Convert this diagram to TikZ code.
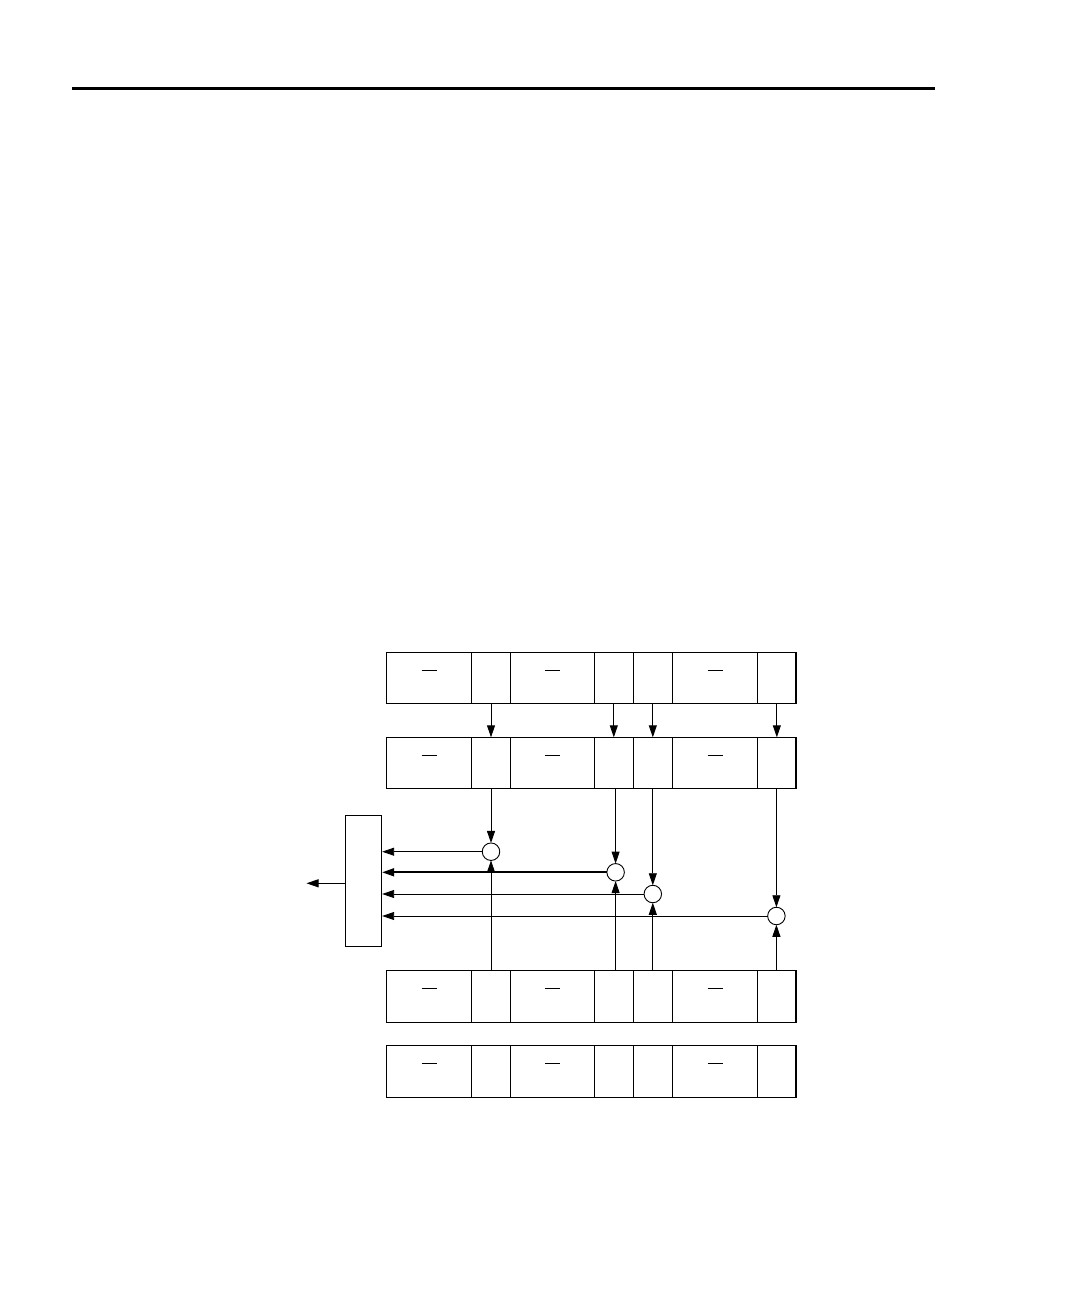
\documentclass[tikz,border=0pt]{standalone}
\usetikzlibrary{arrows.meta}
\begin{document}
\begin{tikzpicture}[x=1pt,y=-1pt,
  cell/.style={draw,line width=0.9pt,rectangle,inner sep=0pt,outer sep=0pt,minimum height=51.5pt},
  junction/.style={draw,line width=0.9pt,circle,inner sep=0pt,outer sep=0pt,minimum size=17.5pt},
  arr/.style={line width=0.9pt,-{Triangle[length=12pt,width=8pt]}},
  dashmark/.style={line width=0.9pt}]
\useasboundingbox (0,0) rectangle (1080,1298);
\draw[line width=3pt] (72,88) -- (935,88);
% rows of cells
\foreach \r/\yt in {1/652.3,2/737.3,3/970.7,4/1045.7}{
  \foreach \c/\xa/\xb in {1/386.7/471.7,2/471.7/510.3,3/510.3/594.3,4/594.3/633.3,5/633.3/672.3,6/672.3/757.7,7/757.7/796}{
    \node[cell,minimum width=\xb-\xa] (r\r c\c) at ({(\xa+\xb)/2},{\yt+25.75}) {};
  }
  \draw[line width=2pt] (r\r c7.north east) -- (r\r c7.south east);
  \foreach \c in {1,3,6}{
    \draw[dashmark] ([xshift=-7.5pt,yshift=-18pt]r\r c\c.north) -- ([xshift=7.5pt,yshift=-18pt]r\r c\c.north);
  }
}
% arrows row1 -> row2
\foreach \c in {2,4,5,7}{
  \draw[arr] (r1c\c.south) -- (r2c\c.north);
}
% junctions
\node[junction] (m1) at (491,851.7) {};
\node[junction] (m2) at (615.6,872.3) {};
\node[junction] (m3) at (652.8,894) {};
\node[junction] (m4) at (776.4,916) {};
% accumulator box
\node[draw,line width=0.9pt,rectangle,inner sep=0pt,minimum width=36.4pt,minimum height=130.7pt] (acc) at (363.5,880.65) {};
\coordinate (out) at (306.5,883.3);
\draw[arr] (acc.west |- out) -- (out);
% verticals from row 2 down to junctions
\draw[arr] (m1 |- r2c2.south) -- (m1.north);
\draw[arr] (m2 |- r2c4.south) -- (m2.north);
\draw[arr] (m3 |- r2c5.south) -- (m3.north);
\draw[arr] (m4 |- r2c7.south) -- (m4.north);
% verticals from row 3 up to junctions
\draw[arr] (m1 |- r3c2.north) -- (m1.south);
\draw[arr] (m2 |- r3c4.north) -- (m2.south);
\draw[arr] (m3 |- r3c5.north) -- (m3.south);
\draw[arr] (m4 |- r3c7.north) -- (m4.south);
% horizontals to accumulator
\draw[arr] (m1.west) -- (m1 -| acc.east);
\draw[arr,line width=1.7pt] (m2.west) -- (m2 -| acc.east);
\draw[arr] (m3.west) -- (m3 -| acc.east);
\draw[arr] (m4.west) -- (m4 -| acc.east);
\end{tikzpicture}
\end{document}
